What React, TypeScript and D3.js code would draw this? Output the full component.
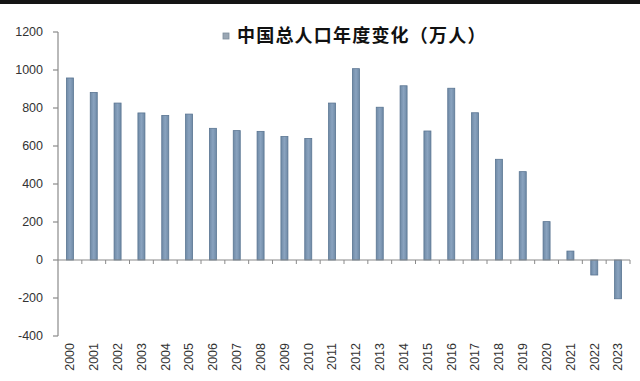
import React from "react";
import * as d3 from "d3";

const years = ["2000","2001","2002","2003","2004","2005","2006","2007","2008","2009","2010","2011","2012","2013","2014","2015","2016","2017","2018","2019","2020","2021","2022","2023"];
const changes = [958, 882, 826, 774, 761, 768, 693, 681, 677, 650, 640, 826, 1007, 804, 917, 679, 904, 775, 530, 465, 202, 47, -79, -204];
const yTicks = [-400, -200, 0, 200, 400, 600, 800, 1000, 1200];
const legendLabel = "中国总人口年度变化（万人）";

const W = 640, H = 381;
const left = 58, right = 630, top = 32, bottom = 336;

export default function App() {
  const x = d3.scaleBand<string>().domain(years).range([left, right]).paddingInner(0).paddingOuter(0);
  const y = d3.scaleLinear().domain([-400, 1200]).range([bottom, top]);
  const bw = 7;
  const y0 = y(0);
  return (
    <svg width={W} height={H} style={{ position: "absolute", left: 0, top: 0, background: "#fff" }}>
      <defs>
        <linearGradient id="barg" x1="0" x2="1" y1="0" y2="0">
          <stop offset="0" stopColor="#6f8aa6" />
          <stop offset="0.5" stopColor="#8aa3bf" />
          <stop offset="1" stopColor="#6f8aa6" />
        </linearGradient>
      </defs>
      <rect x={0} y={0} width={W} height={H} fill="#fff" />
      <rect x={0} y={0} width={W} height={4} fill="#151515" />
      {/* y axis */}
      <line x1={left} x2={left} y1={top} y2={bottom} stroke="#8a8a8a" strokeWidth={1.2} />
      {yTicks.map((t) => (
        <g key={t}>
          <line x1={left - 5} x2={left} y1={y(t)} y2={y(t)} stroke="#8a8a8a" strokeWidth={1.2} />
          <text x={43} y={y(t)} dy="0.35em" textAnchor="end" fontFamily="'Liberation Sans', Arial, sans-serif" fontSize={12.5} fill="#333">{t}</text>
        </g>
      ))}
      {/* bars */}
      {years.map((yr, i) => {
        const v = changes[i];
        const cx = (x(yr) as number) + x.bandwidth() / 2;
        const yt = v >= 0 ? y(v) : y0;
        const h = Math.abs(y(v) - y0);
        return (
          <rect key={yr} x={cx - bw / 2} y={yt} width={bw} height={h} fill="url(#barg)" stroke="#5a7592" strokeWidth={0.8} />
        );
      })}
      {/* x axis */}
      <line x1={left} x2={right} y1={y0} y2={y0} stroke="#8a8a8a" strokeWidth={1.2} />
      {years.map((yr) => (
        <line key={"t" + yr} x1={(x(yr) as number) + x.bandwidth()} x2={(x(yr) as number) + x.bandwidth()} y1={y0} y2={y0 + 4} stroke="#8a8a8a" strokeWidth={1} />
      ))}
      {years.map((yr) => {
        const cx = (x(yr) as number) + x.bandwidth() / 2;
        return (
          <text key={"l" + yr} transform={`translate(${cx},${343}) rotate(-90)`} dy="0.35em" textAnchor="end" fontFamily="'Liberation Sans', Arial, sans-serif" fontSize={12.5} fill="#333">{yr}</text>
        );
      })}
      {/* legend */}
      <rect x={223} y={33} width={6} height={6} fill="#9aa7b4" stroke="#7d8d9c" strokeWidth={0.8} />
      <text x={237} y={36} dy="0.36em" fontFamily="'Noto Sans CJK SC', sans-serif" fontWeight="bold" fontSize={18} letterSpacing={1.2} fill="#111">{legendLabel}</text>
    </svg>
  );
}
